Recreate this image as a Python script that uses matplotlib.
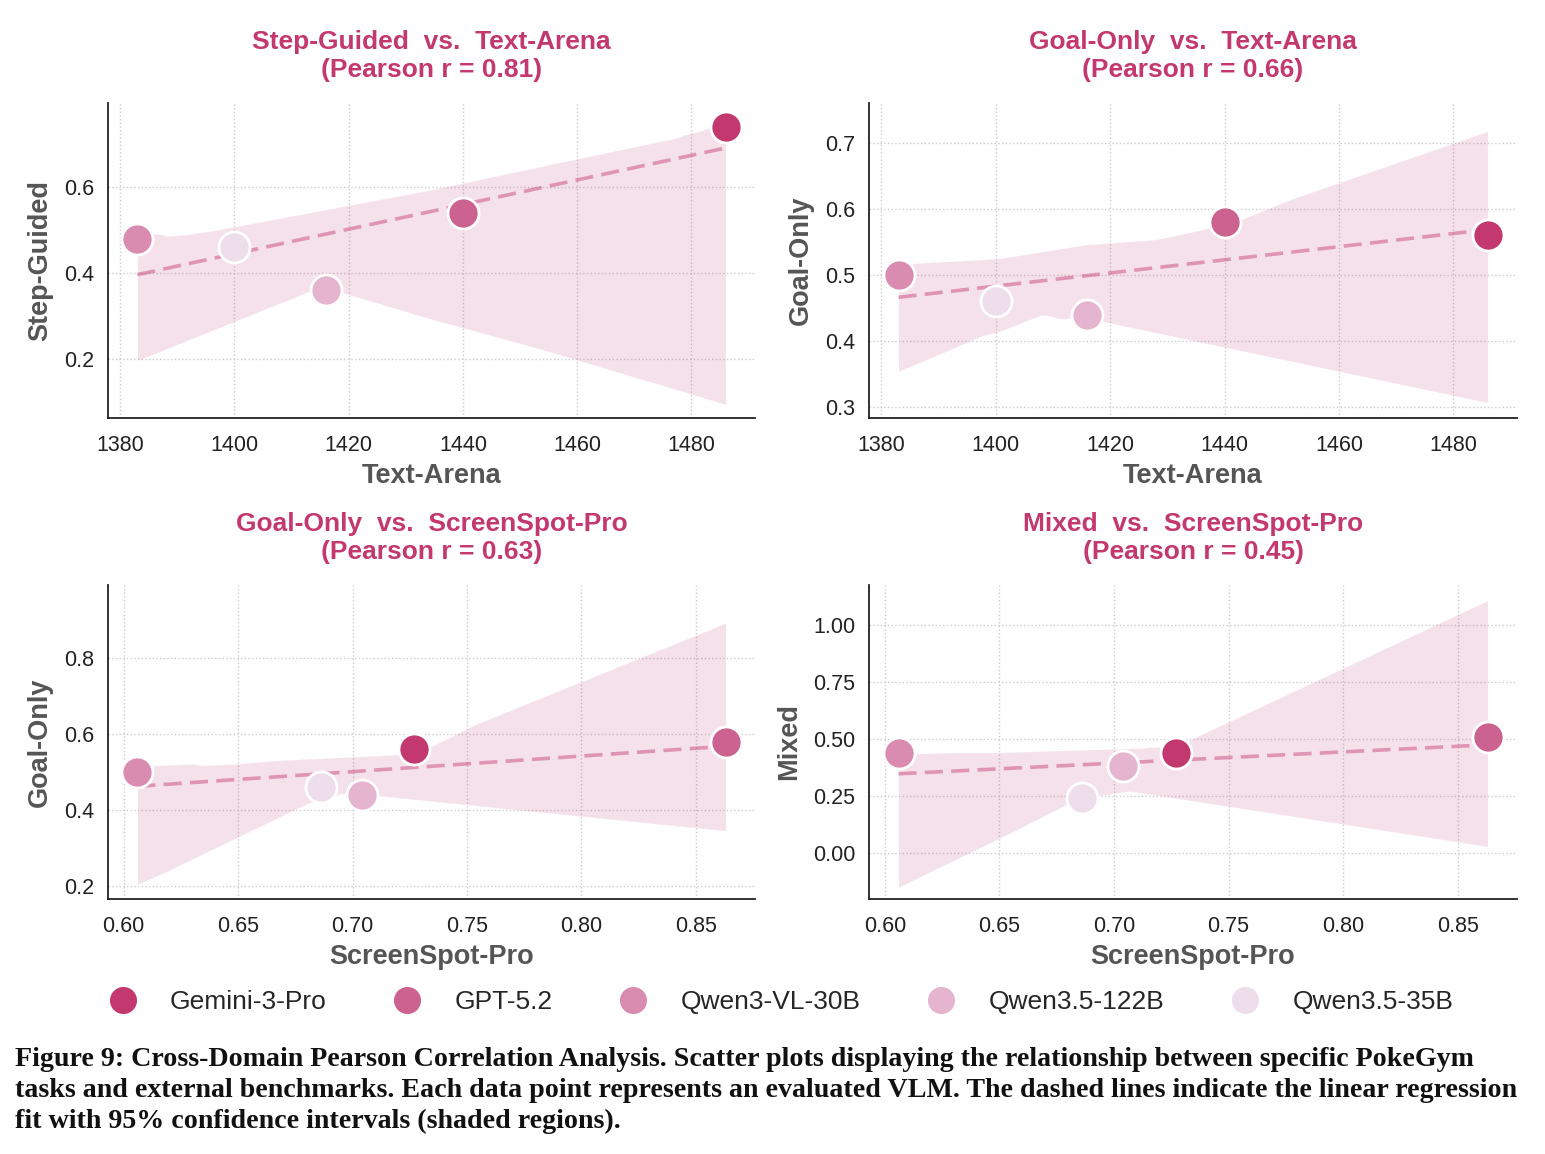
import numpy as np
import pandas as pd
import matplotlib
matplotlib.use('Agg')
import matplotlib.pyplot as plt
import seaborn as sns
from matplotlib.lines import Line2D
from matplotlib.ticker import MultipleLocator

sns.set_style('white')
plt.rcParams['font.family'] = ['Liberation Sans', 'DejaVu Sans']

# ── Data ──────────────────────────────────────────────────────────
models = ['Gemini-3-Pro', 'GPT-5.2', 'Qwen3-VL-30B', 'Qwen3.5-122B', 'Qwen3.5-35B']
colors = ['#C2386F', '#CB6290', '#D98BB0', '#E5B5CF', '#EEDDEA']

text_arena  = [1486, 1440, 1383, 1416, 1400]
screenspot  = [0.727, 0.863, 0.606, 0.704, 0.686]
step_guided = [0.74, 0.54, 0.48, 0.36, 0.46]
goal_only   = [0.56, 0.58, 0.50, 0.44, 0.46]
mixed       = [0.44, 0.51, 0.44, 0.38, 0.24]

df = pd.DataFrame({'model': models, 'Text-Arena': text_arena,
                   'ScreenSpot-Pro': screenspot, 'Step-Guided': step_guided,
                   'Goal-Only': goal_only, 'Mixed': mixed})

ACCENT = '#C2386F'

# (y task, x benchmark, axes rect, ylim, y tick step, x tick step)
panels = [
    ('Step-Guided', 'Text-Arena',     [0.0699, 0.6378, 0.4188, 0.2730], (0.063, 0.795), 0.2, 20),
    ('Goal-Only',   'Text-Arena',     [0.5625, 0.6378, 0.4194, 0.2730], (0.283, 0.761), 0.1, 20),
    ('Goal-Only',   'ScreenSpot-Pro', [0.0699, 0.2210, 0.4188, 0.2721], (0.166, 0.992), 0.2, 0.05),
    ('Mixed',       'ScreenSpot-Pro', [0.5625, 0.2210, 0.4194, 0.2721], (-0.202, 1.175), 0.25, 0.05),
]

fig = plt.figure(figsize=(15.45, 11.54), dpi=100)

for ycol, xcol, rect, ylim, ystep, xstep in panels:
    ax = fig.add_axes(rect)
    r = np.corrcoef(df[xcol], df[ycol])[0, 1]

    # regression line + bootstrapped 95% CI band
    sns.regplot(data=df, x=xcol, y=ycol, ax=ax, scatter=False, ci=95,
                n_boot=1000, seed=7, color=ACCENT,
                line_kws={'alpha': 0.45, 'linewidth': 2.6, 'dashes': (5, 2.3)})
    for m, c, xv, yv in zip(df['model'], colors, df[xcol], df[ycol]):
        ax.scatter(xv, yv, s=500, color=c, edgecolor='white', linewidth=2,
                   zorder=5)

    ax.set_ylim(*ylim)
    ax.yaxis.set_major_locator(MultipleLocator(ystep))
    ax.xaxis.set_major_locator(MultipleLocator(xstep))
    ax.grid(True, linestyle=':', color='#cccccc', linewidth=1)
    ax.set_axisbelow(True)
    for side in ['top', 'right']:
        ax.spines[side].set_visible(False)
    for side in ['left', 'bottom']:
        ax.spines[side].set_color('#222222')
        ax.spines[side].set_linewidth(1.3)
    ax.tick_params(labelsize=15.5, colors='#222222', length=0)
    ax.tick_params(axis='x', pad=12)
    ax.tick_params(axis='y', pad=10)
    ax.set_xlabel(xcol, fontsize=19.5, fontweight='bold', color='#555555', labelpad=5)
    ax.set_ylabel(ycol, fontsize=19.5, fontweight='bold', color='#555555', labelpad=8)
    ax.set_title(f'{ycol}  vs.  {xcol}\n(Pearson r = {r:.2f})', fontsize=19,
                 fontweight='bold', color=ACCENT, pad=19, linespacing=1.2)

handles = [Line2D([0], [0], marker='o', linestyle='', markersize=21,
                  markerfacecolor=c, markeredgecolor='white', markeredgewidth=1.5)
           for c in colors]
fig.legend(handles, models, loc='center', bbox_to_anchor=(0.5015, 0.1317), ncol=5,
           frameon=False, fontsize=19, handletextpad=0.8, columnspacing=2.05)

caption = ('Figure 9: Cross-Domain Pearson Correlation Analysis. Scatter plots displaying '
           'the relationship between specific PokeGym\n'
           'tasks and external benchmarks. Each data point represents an evaluated VLM. '
           'The dashed lines indicate the linear regression\n'
           'fit with 95% confidence intervals (shaded regions).')
fig.text(15 / 1545, 1 - 1047 / 1154, caption, ha='left', va='top',
         family='Liberation Serif', fontweight='bold', fontsize=20.2,
         color='#111111', linespacing=1.31)

fig.savefig('out.png', dpi=100)
